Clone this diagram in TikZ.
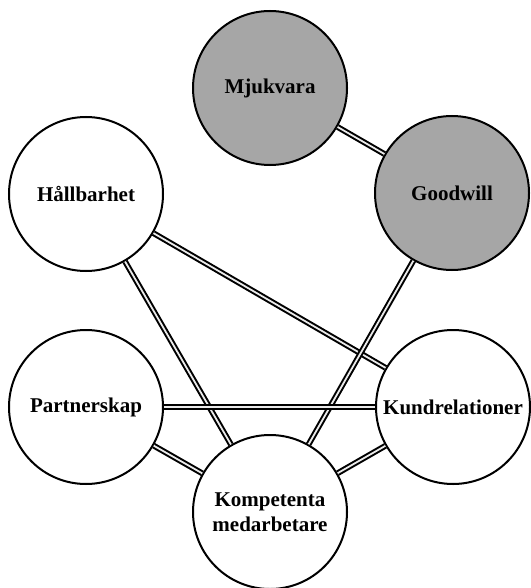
\documentclass[tikz,border=0pt]{standalone}
\usepackage{fontspec}
\setmainfont{Liberation Serif}
\begin{document}
\begin{tikzpicture}[x=1pt,y=-1pt,
  bubble/.style={circle,draw=black,line width=2pt,fill=white,minimum size=154pt,
    inner sep=0pt,align=center,font=\fontsize{21}{25}\selectfont\bfseries},
  greybubble/.style={bubble,fill=black!35},
  link/.style={draw=black,line width=2pt,double=white!92!black,double distance=1.8pt}]
\useasboundingbox (0,0) rectangle (530,588);
% competence areas
\node[greybubble] (mjuk) at (270,88) {Mjukvara};
\node[greybubble] (good) at (452,193) {Goodwill};
\node[bubble] (hall) at (86,194) {Hållbarhet};
\node[bubble] (part) at (86,407) {Partnerskap};
\node[bubble] (kund) at (453,407) {Kundrelationer};
\node[bubble] (komp) at (270,512) {Kompetenta\\medarbetare};
% relations between the areas
\draw[link] (mjuk) -- (good);
\draw[link] (hall) -- (kund);
\draw[link] (hall) -- (komp);
\draw[link] (good) -- (komp);
\draw[link] (part) -- (kund);
\draw[link] (part) -- (komp);
\draw[link] (komp) -- (kund);
\end{tikzpicture}
\end{document}
